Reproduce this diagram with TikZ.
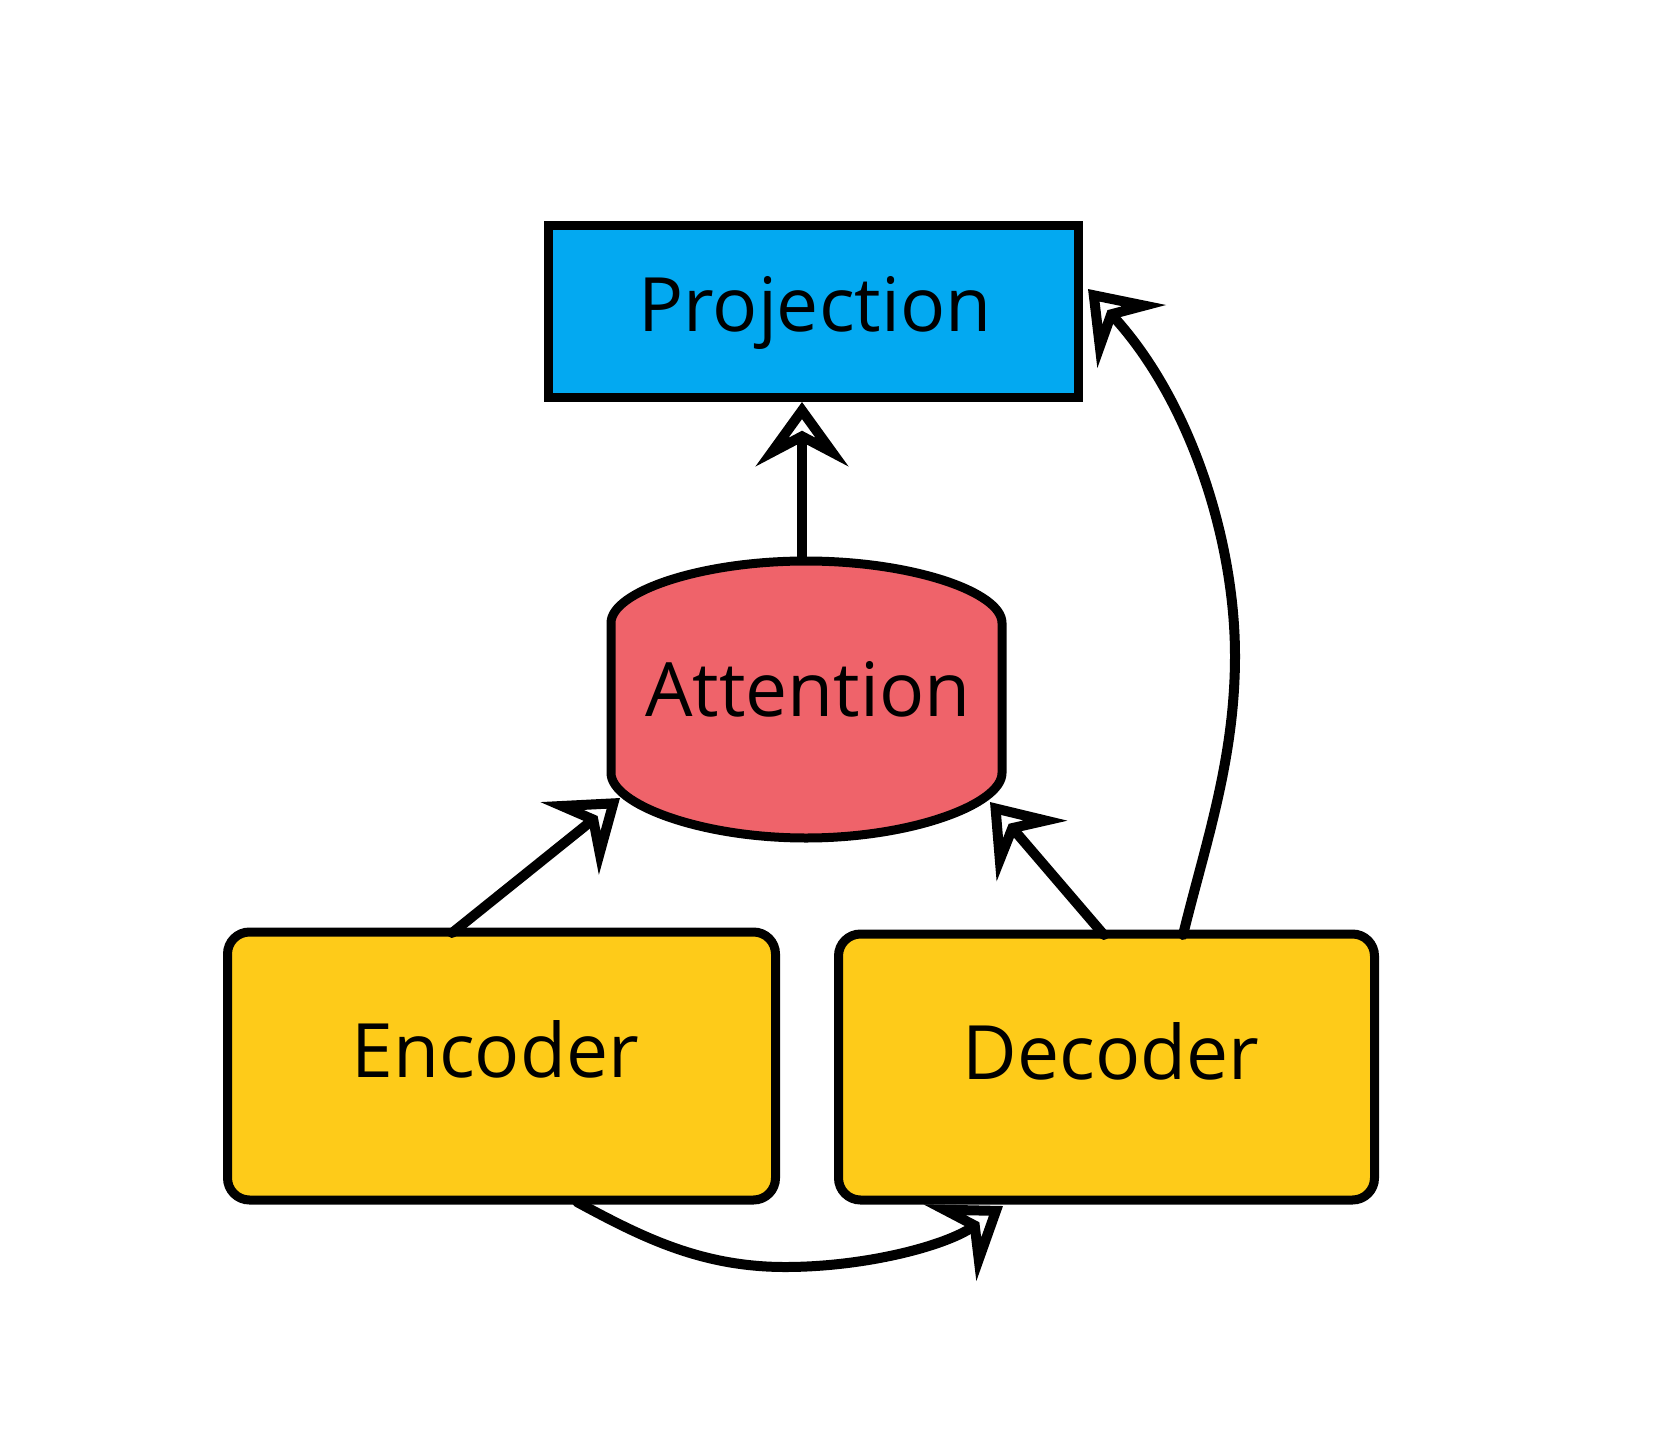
\documentclass[tikz,border=0pt]{standalone}
\usepackage{fontspec}
\setmainfont{Open Sans}
\usetikzlibrary{arrows.meta}
\definecolor{projblue}{RGB}{3,169,241}
\definecolor{attred}{RGB}{239,99,106}
\definecolor{boxyellow}{RGB}{254,203,25}
\tikzset{
  box/.style={draw=black, line width=9pt, inner sep=0pt, outer sep=0pt},
  lbl/.style={anchor=base, inner sep=0pt, font=\fontsize{75}{90}\selectfont},
  arr/.style={draw=black, line width=10pt, line cap=round,
    -{Stealth[open, length=64pt, width=92pt, inset=24pt]}}
}
\begin{document}
\begin{tikzpicture}[x=1pt,y=-1pt]
\useasboundingbox (0,0) rectangle (1660,1440);
% boxes
\node[box, fill=projblue, minimum width=530pt, minimum height=172pt] (proj) at (813,311) {};
\node[box, fill=boxyellow, rounded corners=22pt, minimum width=548pt, minimum height=268pt] (enc) at (501.5,1066) {};
\node[box, fill=boxyellow, rounded corners=22pt, minimum width=536pt, minimum height=266pt] (dec) at (1106.5,1067) {};
% attention shape
\draw[fill=attred, line width=9pt, line join=round]
  (611,623) .. controls (611,592) and (700,561) .. (806,561)
  .. controls (912,561) and (1002,592) .. (1002,623)
  -- (1002,773)
  .. controls (1002,804) and (912,838) .. (806,838)
  .. controls (700,838) and (611,804) .. (611,773) -- cycle;
% labels
\node[lbl] (projtxt) at (815,331) {Projection};
\node[lbl] (atttxt) at (808,716) {Attention};
\node[lbl] (enctxt) at (495,1077) {Encoder};
\node[lbl] (dectxt) at (1111,1079) {Decoder};
% connector end points
\coordinate (atttop) at (802,559);
\coordinate (projin) at (802,402);
\coordinate (encout) at (452,933);
\coordinate (attinl) at (620,798);
\coordinate (decouta) at (1104,935);
\coordinate (attinr) at (990,802);
\coordinate (decoutb) at (1183,935);
\coordinate (decmax) at (1235,656);
\coordinate (projinr) at (1088,289);
\coordinate (encbot) at (577,1202);
\coordinate (botlow) at (785,1267);
\coordinate (decin) at (1003,1206);
% connectors
\draw[arr] (atttop) -- (projin);
\draw[arr] (encout) -- (attinl);
\draw[arr] (decouta) -- (attinr);
\draw[arr] (decoutb) .. controls (1205,845) and (1235,760) .. (decmax)
  .. controls (1235,540) and (1190,400) .. (projinr);
\draw[arr] (encbot) .. controls (640,1236) and (700,1267) .. (botlow)
  .. controls (865,1267) and (945,1246) .. (decin);
\end{tikzpicture}
\end{document}
